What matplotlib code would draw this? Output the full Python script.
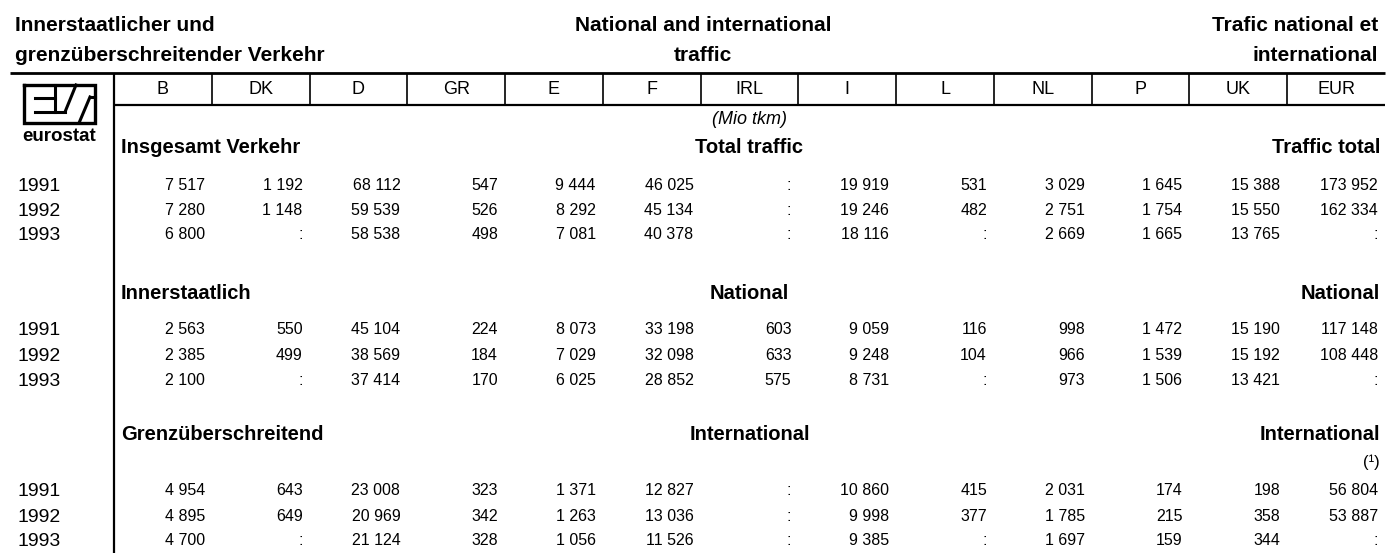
import matplotlib
matplotlib.use("Agg")
import matplotlib.pyplot as plt

plt.rcParams['font.family'] = ['Liberation Sans', 'DejaVu Sans']

# ---------------- data ----------------
countries = ["B", "DK", "D", "GR", "E", "F", "IRL", "I", "L", "NL", "P", "UK", "EUR"]
years = ["1991", "1992", "1993"]

# Total traffic (Mio tkm); None = not available (":")
total_1991 = [7517, 1192, 68112, 547, 9444, 46025, None, 19919, 531, 3029, 1645, 15388, 173952]
total_1992 = [7280, 1148, 59539, 526, 8292, 45134, None, 19246, 482, 2751, 1754, 15550, 162334]
total_1993 = [6800, None, 58538, 498, 7081, 40378, None, 18116, None, 2669, 1665, 13765, None]

# National traffic
national_1991 = [2563, 550, 45104, 224, 8073, 33198, 603, 9059, 116, 998, 1472, 15190, 117148]
national_1992 = [2385, 499, 38569, 184, 7029, 32098, 633, 9248, 104, 966, 1539, 15192, 108448]
national_1993 = [2100, None, 37414, 170, 6025, 28852, 575, 8731, None, 973, 1506, 13421, None]

# International traffic
intl_1991 = [4954, 643, 23008, 323, 1371, 12827, None, 10860, 415, 2031, 174, 198, 56804]
intl_1992 = [4895, 649, 20969, 342, 1263, 13036, None, 9998, 377, 1785, 215, 358, 53887]
intl_1993 = [4700, None, 21124, 328, 1056, 11526, None, 9385, None, 1697, 159, 344, None]

title_de = ["Innerstaatlicher und", "grenzüberschreitender Verkehr"]
title_en = ["National and international", "traffic"]
title_fr = ["Trafic national et", "international"]
unit_label = "(Mio tkm)"
sections_de = ["Insgesamt Verkehr", "Innerstaatlich", "Grenzüberschreitend"]
sections_en = ["Total traffic", "National", "International"]
sections_fr = ["Traffic total", "National", "International"]
footnote_mark = "(¹)"

sections = [
    [total_1991, total_1992, total_1993],
    [national_1991, national_1992, national_1993],
    [intl_1991, intl_1992, intl_1993],
]


def fmt(v):
    if v is None:
        return ":"
    return f"{v:,}".replace(",", " ")


# ---------------- layout ----------------
W, H = 1388, 553
fig = plt.figure(figsize=(W / 100, H / 100), dpi=100)
ax = fig.add_axes([0, 0, 1, 1])
ax.set_xlim(0, W)
ax.set_ylim(H, 0)
ax.axis("off")

x_left_line = 114
x_right = 1385
ncol = len(countries)
col_w = (x_right - x_left_line) / ncol
borders = [x_left_line + i * col_w for i in range(ncol + 1)]

y_top_rule = 73
y_head_rule = 105

title_kw = dict(fontsize=15, fontweight="bold", va="baseline", color="black")
for i, yb in enumerate([31, 61]):
    ax.text(15, yb, title_de[i], ha="left", **title_kw)
    ax.text(703, yb, title_en[i], ha="center", **title_kw)
    ax.text(1378, yb, title_fr[i], ha="right", **title_kw)

# rules
ax.plot([10, x_right], [y_top_rule, y_top_rule], color="black", lw=2.0, solid_capstyle="butt")
ax.plot([x_left_line, x_right], [y_head_rule, y_head_rule], color="black", lw=1.6, solid_capstyle="butt")
ax.plot([x_left_line, x_left_line], [y_top_rule, H], color="black", lw=1.6, solid_capstyle="butt")
for b in borders[1:-1]:
    ax.plot([b, b], [y_top_rule, y_head_rule], color="black", lw=1.2, solid_capstyle="butt")

# column headers
for i, c in enumerate(countries):
    xc = (borders[i] + borders[i + 1]) / 2
    ax.text(xc, 94.5, c, ha="center", va="baseline", fontsize=13)

# unit label, centred on the IRL column
irl = countries.index("IRL")
x_mid = (borders[irl] + borders[irl + 1]) / 2
ax.text(x_mid, 124, unit_label, ha="center", va="baseline", fontsize=13, fontstyle="italic")

# eurostat logo
lk = dict(color="black", lw=2.2, solid_capstyle="projecting")
ax.plot([24, 95, 95, 24, 24], [85, 85, 123, 123, 85], color="black", lw=2.4, solid_joinstyle="miter")
ax.plot([35, 55], [98, 98], **lk)
ax.plot([55, 55], [85, 112], **lk)
ax.plot([35, 65], [112, 112], **lk)
ax.plot([65, 76], [112, 85], **lk)
ax.plot([79, 90], [123, 97], **lk)
ax.plot([90, 95], [97, 97], **lk)
ax.text(59, 141, "eurostat", ha="center", va="baseline", fontsize=13.5, fontweight="bold")

# sections
section_baselines = [153, 299, 440]
row_baselines = [[190, 215, 239], [334, 360, 385], [495, 521, 545]]
right_edges = [b - 7 for b in borders[1:]]
right_edges[-1] = 1378

sec_kw = dict(fontsize=14.5, fontweight="bold", va="baseline")
for s in range(3):
    yb = section_baselines[s]
    ax.text(121, yb, sections_de[s], ha="left", **sec_kw)
    ax.text(x_mid, yb, sections_en[s], ha="center", **sec_kw)
    ax.text(1380, yb, sections_fr[s], ha="right", **sec_kw)
    for r, vals in enumerate(sections[s]):
        yr = row_baselines[s][r]
        ax.text(18, yr + 1, years[r], ha="left", va="baseline", fontsize=14)
        for j, v in enumerate(vals):
            ax.text(right_edges[j], yr, fmt(v), ha="right", va="baseline", fontsize=11.5)

ax.text(1380, 467, footnote_mark, ha="right", va="baseline", fontsize=12)

fig.savefig("out.png", dpi=100)
